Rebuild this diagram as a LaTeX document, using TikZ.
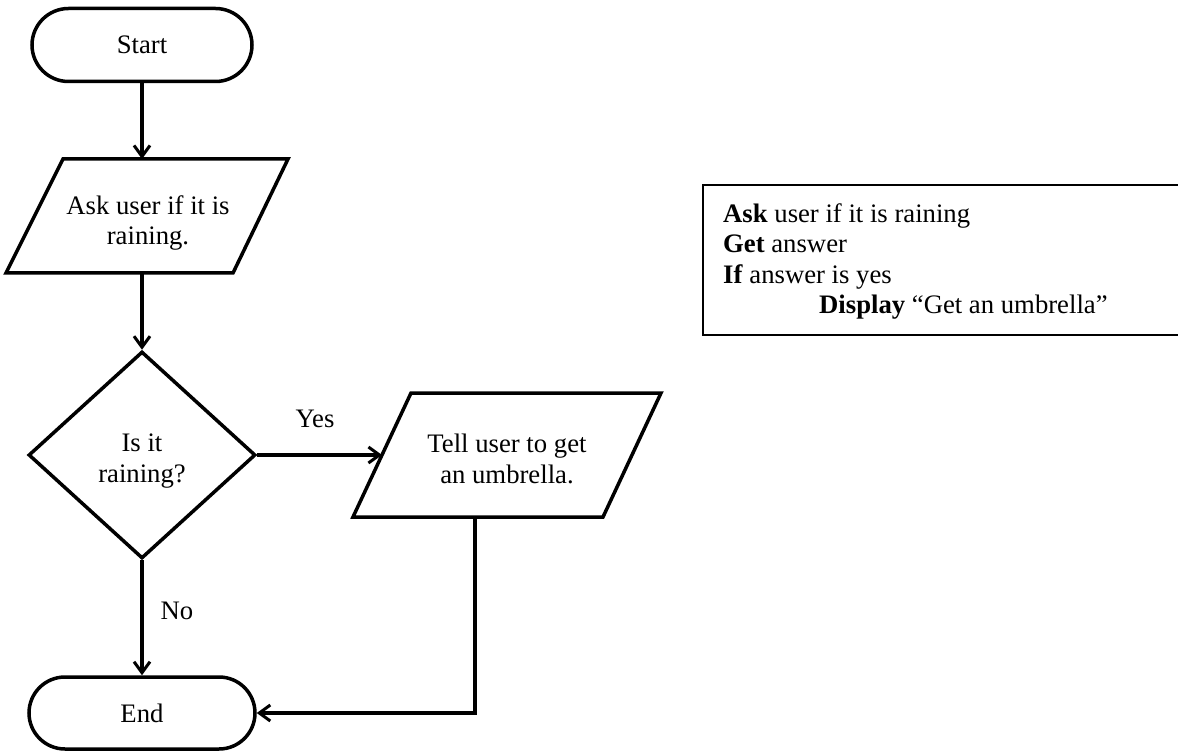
\documentclass[tikz,border=0pt]{standalone}
\usepackage{fontspec}
\setmainfont{Liberation Serif}
\usetikzlibrary{shapes.geometric,shapes.misc,arrows.meta}
\begin{document}
\begin{tikzpicture}[x=1pt,y=-1pt,
  every node/.style={font=\fontsize{26.7}{30.5}\selectfont},
  shapeline/.style={line width=3.5pt,line join=miter},
  arr/.style={line width=3.5pt,-{Straight Barb[length=11pt,width=16pt,line width=3pt]}},
  term/.style={draw,rounded rectangle,line width=3.5pt,minimum width=220pt,minimum height=73pt,inner sep=0pt},
  dec/.style={draw,diamond,line width=3.5pt,minimum width=227pt,minimum height=207pt,inner sep=0pt},
  txt/.style={align=center,inner sep=0pt},
  lbl/.style={inner sep=0pt,anchor=base},
]
\useasboundingbox (0,0) rectangle (1178,751);
\clip (0,0) rectangle (1178,751);

% terminals
\node[term] (start) at (142,45) {Start};
\node[term,minimum width=226pt,minimum height=72pt] (end) at (142,713) {End};

% input parallelogram 1
\coordinate (p1a) at (63,159);
\coordinate (p1b) at (288,159);
\coordinate (p1c) at (233,273);
\coordinate (p1d) at (6,273);
\draw[shapeline] (p1a) -- (p1b) -- (p1c) -- (p1d) -- cycle;
\node[txt] (ask) at (148,223) {Ask user if it is\\raining.};
\coordinate (p1top) at (142,159);
\coordinate (p1bot) at (142,273);

% decision
\node[dec] (dec) at (142,455) {};
\node[txt] (dectext) at (142,461) {Is it\\raining?};

% output parallelogram 2
\coordinate (p2a) at (411,393);
\coordinate (p2b) at (661,393);
\coordinate (p2c) at (603,517);
\coordinate (p2d) at (353,517);
\draw[shapeline] (p2a) -- (p2b) -- (p2c) -- (p2d) -- cycle;
\node[txt] (tell) at (507,459) {Tell user to get\\an umbrella.};
\coordinate (p2left) at (382,455);
\coordinate (p2bot) at (475,517);
\coordinate (corner) at (475,713);

% connectors
\draw[arr] (start.south) -- (p1top);
\draw[arr] (p1bot) -- (dec.north);
\draw[arr] (dec.east) -- (p2left);
\draw[arr] (dec.south) -- (end.north);
\draw[arr] (p2bot) -- (corner) -- (end.east);

% labels
\node[lbl] (yes) at (315,427) {Yes};
\node[lbl] (no) at (177,619) {No};

% pseudocode box (open on the right, cut by the picture edge)
\coordinate (boxa) at (703,185);
\coordinate (boxb) at (1200,335);
\draw[line width=2pt] (boxa) rectangle (boxb);
\node[inner sep=0pt,anchor=north west,align=left] (pseudo) at (723,203.5)
  {\textbf{Ask} user if it is raining\\
   \textbf{Get} answer\\
   \textbf{If} answer is yes\\
   \hspace*{96pt}\textbf{Display} ``Get an umbrella''};
\end{tikzpicture}
\end{document}
